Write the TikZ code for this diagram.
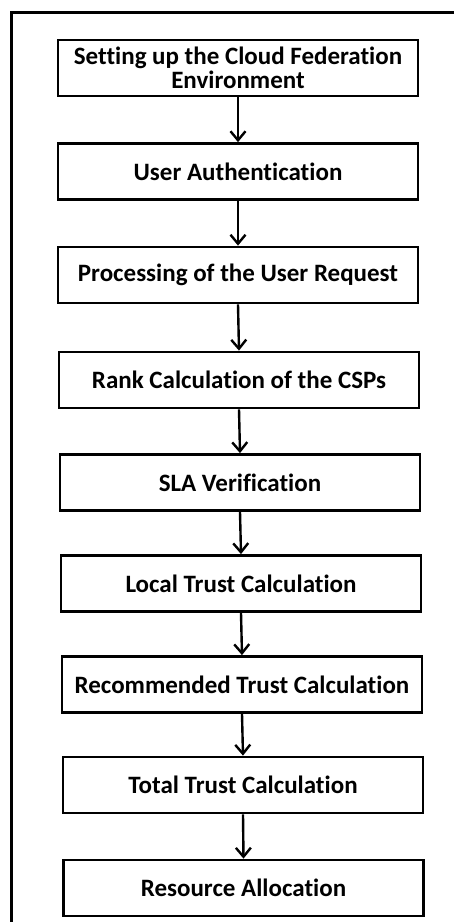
\documentclass[tikz,border=0pt]{standalone}
\usepackage{fontspec}
\setmainfont[Ligatures=NoCommon]{Carlito}
\usetikzlibrary{arrows.meta}
\begin{document}
\begin{tikzpicture}[x=1pt,y=-1pt,
  stepbox/.style={draw=black, line width=2.8pt, fill=white,
    minimum width=360pt, minimum height=56pt, inner sep=0pt,
    align=center, font=\fontsize{25}{24.5}\selectfont\bfseries},
  flow/.style={line width=2.4pt, -{Straight Barb[length=9pt,width=15pt,line width=2.4pt]}}]
  \useasboundingbox (0,0) rectangle (454,922);
  % surrounding frame (only its left and top sides fall inside the page)
  \draw[line width=2.8pt] (11.5,940) -- (11.5,12.5) -- (470,12.5);
  % steps of the process
  \node[stepbox] (s1) at (238,68)    {Setting up the Cloud Federation\\Environment};
  \node[stepbox] (s2) at (238,171.5) {User Authentication};
  \node[stepbox] (s3) at (238,275)   {Processing of the User Request};
  \node[stepbox] (s4) at (239,380)   {Rank Calculation of the CSPs};
  \node[stepbox] (s5) at (240,482.5) {SLA Verification};
  \node[stepbox] (s6) at (241,583.5) {Local Trust Calculation};
  \node[stepbox] (s7) at (242,684.5) {Recommended Trust Calculation};
  \node[stepbox] (s8) at (243,785)   {Total Trust Calculation};
  \node[stepbox] (s9) at (243.5,888) {Resource Allocation};
  % connectors
  \foreach \a/\b in {s1/s2,s2/s3,s3/s4,s4/s5,s5/s6,s6/s7,s7/s8,s8/s9}
    \draw[flow] (\a.south) -- (\b.north);
\end{tikzpicture}
\end{document}
